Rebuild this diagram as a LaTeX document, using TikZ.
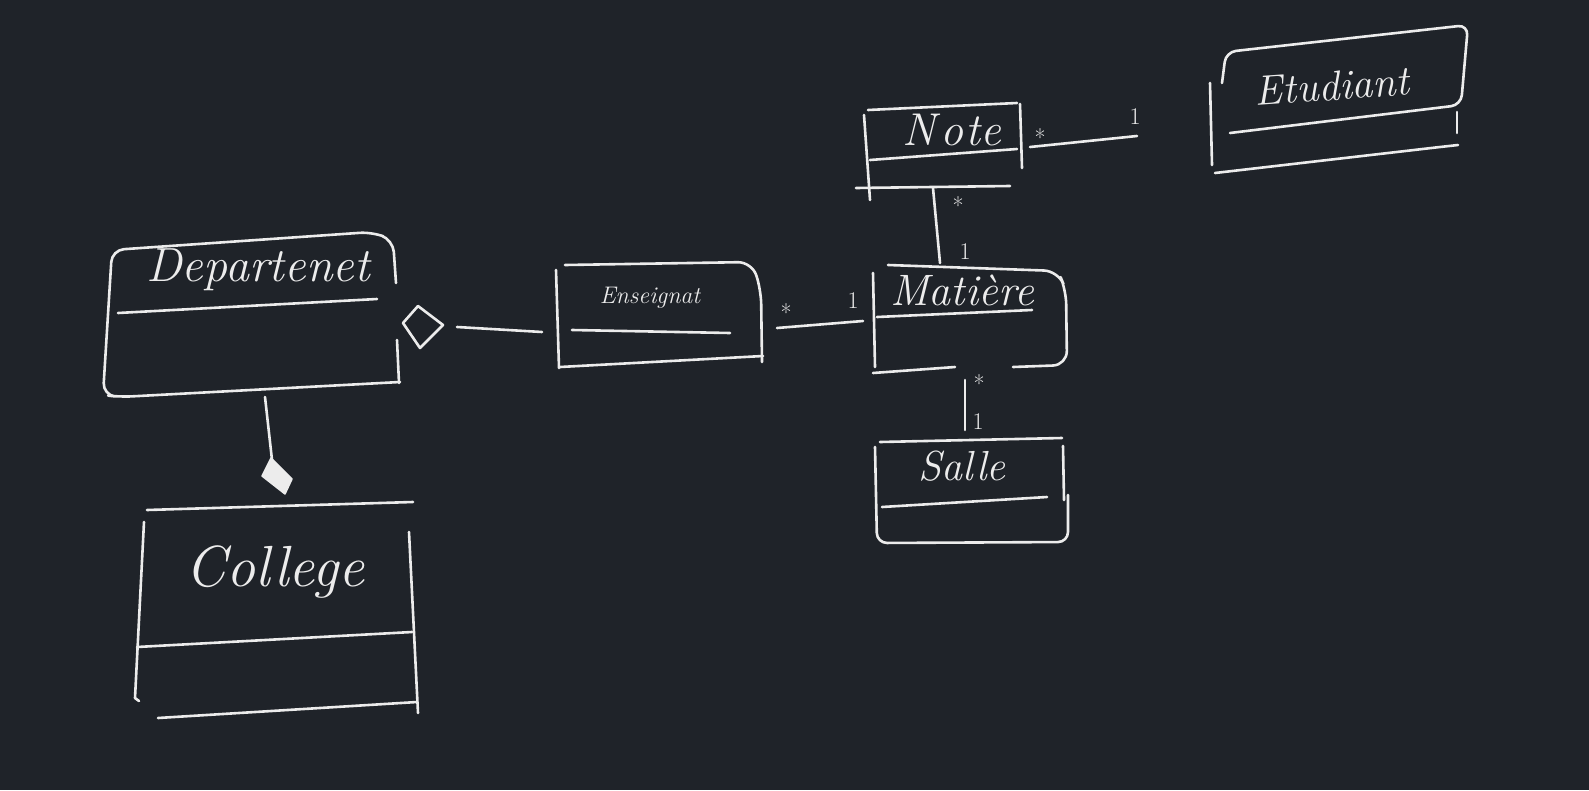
\documentclass[tikz,border=0pt]{standalone}
\usetikzlibrary{shapes.geometric}
\definecolor{bg}{RGB}{31,35,41}
\definecolor{chalk}{RGB}{236,236,236}
\tikzset{
  pen/.style={draw=chalk, line width=2.6pt, line cap=round, line join=round},
  cname/.style={text=chalk, inner sep=0pt, font=\itshape},
  mult/.style={text=chalk, inner sep=0pt, font=\fontsize{24}{24}\selectfont},
}
\newcommand{\fs}[1]{\fontsize{#1}{#1}\selectfont}
\begin{document}
\begin{tikzpicture}[x=1pt,y=-1pt]
\fill[bg] (0,0) rectangle (1589,790);
\useasboundingbox (0,0) rectangle (1589,790);

% ---------- Departenet
\draw[pen, rounded corners=12pt] (396,283) -- (393,240) -- (372,232) -- (112,250) -- (103,395) -- (120,397) -- (400,382);
\draw[pen] (397,340) -- (399,383);
\draw[pen] (118,313) -- (377,299);
\node[cname, font=\itshape\fs{48}] (dep) at (258,270) {Departenet};

% ---------- College
\draw[pen] (147,510) -- (413,502);
\draw[pen] (144,522) -- (135,698) -- (139,701);
\draw[pen] (409,532) -- (418,713);
\draw[pen] (137,647) -- (412,632);
\draw[pen] (158,718) -- (417,702);
\node[cname, font=\itshape\fs{58}] (col) at (275,572) {College};

% ---------- Enseignat
\draw[pen] (556,270) -- (559,368);
\draw[pen, rounded corners=14pt] (565,265) -- (752,262) -- (761,290) -- (762,362);
\draw[pen] (560,367) -- (763,356);
\draw[pen] (572,330) -- (730,333);
\node[cname, font=\itshape\fs{24}] (ens) at (650,298) {Enseignat};

% ---------- Matiere
\draw[pen] (873,273) -- (875,367);
\draw[pen, rounded corners=14pt] (888,265) -- (1058,271) -- (1066,290) -- (1067,365) -- (1013,367);
\draw[pen] (873,373) -- (955,367);
\draw[pen] (877,317) -- (1032,310);
\node[cname, font=\itshape\fs{44}] (mat) at (962,290) {Matière};

% ---------- Note
\draw[pen] (868,110) -- (1017,103);
\draw[pen] (1020,104) -- (1022,168);
\draw[pen] (864,115) -- (870,200);
\draw[pen] (870,160) -- (1017,149);
\draw[pen] (856,188) -- (1010,186);
\node[cname, font=\itshape\fs{46}] (note) at (952,130) {N\kern4pt o\kern2pt te};

% ---------- Etudiant
\draw[pen, rounded corners=10pt] (1222,83) -- (1226,52) -- (1468,25) -- (1461,105) -- (1230,133);
\draw[pen] (1210,83) -- (1212,165);
\draw[pen] (1215,173) -- (1440,147) -- (1458,145);
\draw[pen] (1457,112) -- (1457,133);
\node[cname, font=\itshape\fs{42}, rotate=4] (etu) at (1332,86) {Etudiant};

% ---------- Salle
\draw[pen] (880,442) -- (1062,438);
\draw[pen] (1063,446) -- (1064,500);
\draw[pen, rounded corners=10pt] (875,447) -- (877,543) -- (1068,542) -- (1068,495);
\draw[pen] (882,507) -- (1047,497);
\node[cname, font=\itshape\fs{42}] (sal) at (962,466) {Salle};

% ---------- connectors
% aggregation Departenet -- Enseignat
\draw[pen] (403,323) -- (418,306) -- (443,325) -- (420,348) -- cycle;
\coordinate (aggR) at (457,327);
\coordinate (ensL) at (542,332);
\draw[pen] (aggR) -- (ensL);

% composition Departenet -- College
\coordinate (depB) at (265,397);
\coordinate (colT) at (272,460);
\draw[pen] (depB) -- (colT);
\fill[chalk, draw=chalk, line width=1.5pt, line join=round] (271,458) -- (292,479) -- (285,494) -- (262,476) -- cycle;

% Enseignat -- Matiere
\coordinate (ensR) at (777,328);
\coordinate (matL) at (863,321);
\draw[pen] (ensR) -- (matL);
\node[mult] (m1) at (786,313) {*};
\node[mult] (m2) at (853,301) {1};

% Note -- Matiere
\coordinate (noteB) at (933,188);
\coordinate (matT) at (940,263);
\draw[pen] (noteB) -- (matT);
\node[mult] (m3) at (958,206) {*};
\node[mult] (m4) at (965,252) {1};

% Note -- Etudiant
\coordinate (noteR) at (1030,147);
\coordinate (etuL) at (1137,136);
\draw[pen] (noteR) -- (etuL);
\node[mult] (m5) at (1040,138) {*};
\node[mult] (m6) at (1135,117) {1};

% Matiere -- Salle
\coordinate (matB) at (965,380);
\coordinate (salT) at (965,430);
\draw[pen] (matB) -- (salT);
\node[mult] (m7) at (979,384) {*};
\node[mult] (m8) at (978,422) {1};
\end{tikzpicture}
\end{document}
